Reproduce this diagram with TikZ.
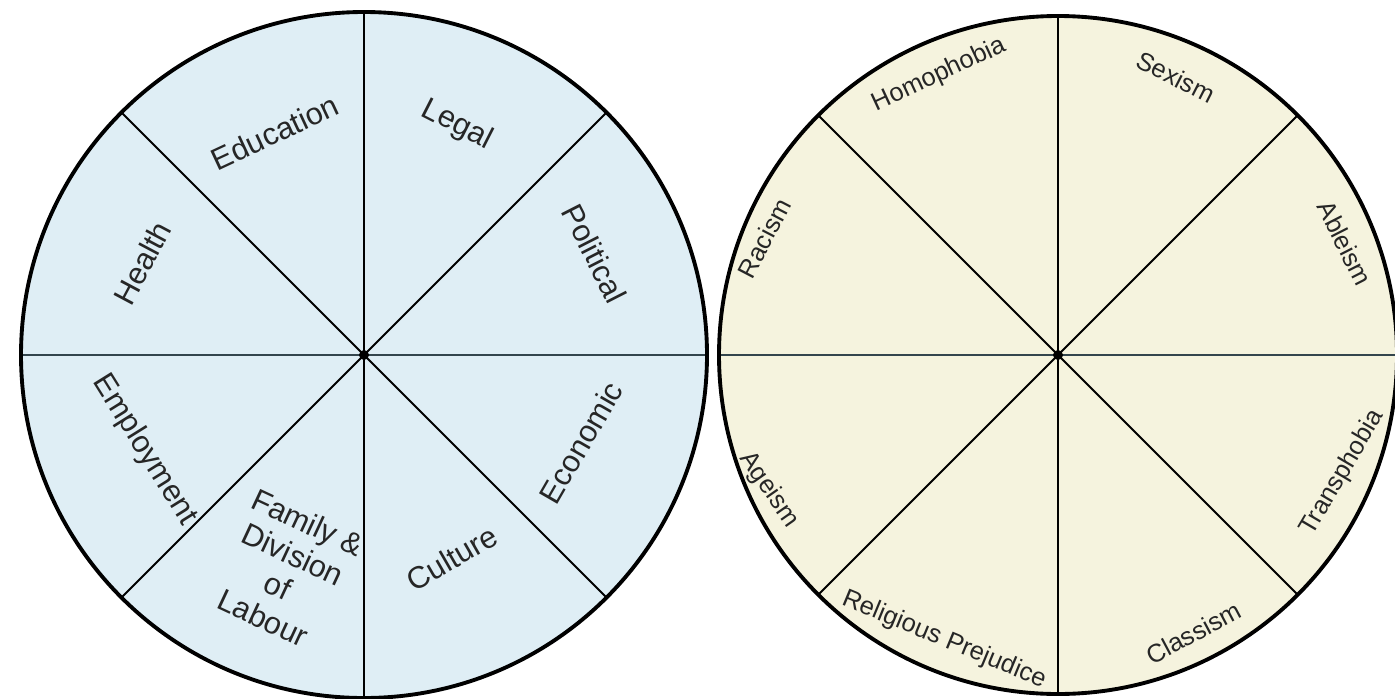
\documentclass[tikz,border=0pt]{standalone}
\usepackage{fontspec}
\setmainfont{Liberation Sans}
\definecolor{wheelblue}{HTML}{DFEEF5}
\definecolor{wheelcream}{HTML}{F5F3DE}
\definecolor{axisgray}{HTML}{33454D}
\begin{document}
\begin{tikzpicture}
  [x=0.02cm,y=0.02cm,
   rim/.style={line width=2.2pt},
   spoke/.style={line width=1.1pt},
   axis/.style={line width=1.7pt, draw=axisgray},
   lbl/.style={font=\fontsize{17.5}{20}\selectfont, text=black!85, align=center, inner sep=0pt},
   slbl/.style={font=\fontsize{14.5}{17}\selectfont, text=black!85, inner sep=0pt}]
  \useasboundingbox (0,0) rectangle (1395,698);
  \coordinate (cL) at (364,343);
  \coordinate (cR) at (1058,343);

  % left wheel: structures
  \fill[wheelblue] (cL) circle (343);
  \draw[axis] ([shift={(180:343)}]cL) -- ([shift={(0:343)}]cL);
  \foreach \a in {45,90,135,225,270,315}
    \draw[spoke] (cL) -- ([shift={(\a:343)}]cL);
  \draw[rim] (cL) circle (343);
  \fill (cL) circle (5);

  \node[lbl, rotate=25]  (educ)   at ([shift={(111.8:240)}]cL) {Education};
  \node[lbl, rotate=-27] (legal)  at ([shift={(68:248)}]cL)    {Legal};
  \node[lbl, rotate=-63] (polit)  at ([shift={(23.8:252)}]cL)  {Political};
  \node[lbl, rotate=62]  (health) at ([shift={(157.5:240)}]cL) {Health};
  \node[lbl, rotate=-58] (employ) at ([shift={(203.4:239)}]cL) {Employment};
  \node[lbl, rotate=60]  (econ)   at ([shift={(-22:234)}]cL)   {Economic};
  \node[lbl, rotate=30]  (cult)   at ([shift={(-66.6:221)}]cL) {Culture};
  \node[lbl, rotate=-25] (family) at ([shift={(250:229)}]cL)   {Family \&\\Division\\of\\Labour};

  % right wheel: prejudices
  \fill[wheelcream] (cR) circle (339);
  \draw[axis] ([shift={(180:339)}]cR) -- ([shift={(0:339)}]cR);
  \foreach \a in {45,90,135,225,270,315}
    \draw[spoke] (cR) -- ([shift={(\a:339)}]cR);
  \draw[rim] (cR) circle (339);
  \fill (cR) circle (5);

  \node[slbl, rotate=25]    (homo)   at ([shift={(113:304)}]cR)   {Homophobia};
  \node[slbl, rotate=-27]   (sex)    at ([shift={(67:302)}]cR)    {Sexism};
  \node[slbl, rotate=-63]   (able)   at ([shift={(21.3:308)}]cR)  {Ableism};
  \node[slbl, rotate=62.5]  (race)   at ([shift={(158.3:316)}]cR) {Racism};
  \node[slbl, rotate=-55]   (age)    at ([shift={(205:319)}]cR)   {Ageism};
  \node[slbl, rotate=-22.5] (relig)  at ([shift={(248.2:307)}]cR) {Religious Prejudice};
  \node[slbl, rotate=28]    (class)  at ([shift={(296:309)}]cR)   {Classism};
  \node[slbl, rotate=59.5]  (trans)  at ([shift={(337.5:308)}]cR) {Transphobia};
\end{tikzpicture}
\end{document}
